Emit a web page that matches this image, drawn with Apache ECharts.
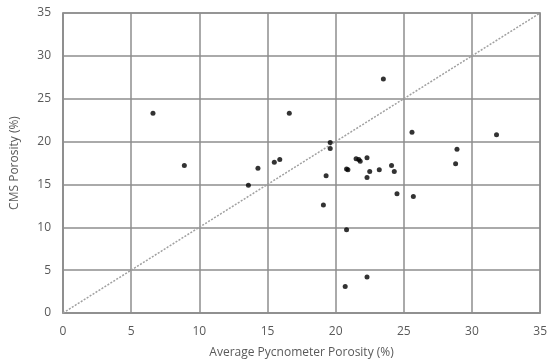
<!DOCTYPE html>
<html>
<head>
<meta charset="utf-8">
<script src="https://cdn.jsdelivr.net/npm/echarts@6/dist/echarts.min.js"></script>
<style>
  html, body { margin: 0; padding: 0; background: #fff; }
  #chart { width: 550px; height: 364px; }
</style>
</head>
<body>
<div id="chart"></div>
<script>
// average pycnometer porosity (%) vs CMS porosity (%)
const pycnometer = [
  6.6, 8.9, 13.6, 14.3, 15.5, 15.9, 16.6, 19.1, 19.3, 19.6, 19.6,
  20.7, 20.8, 20.8, 20.9, 21.5, 21.7, 21.8, 22.3, 22.3, 22.3, 22.5,
  23.2, 23.5, 24.1, 24.3, 24.5, 25.6, 25.7, 28.8, 28.9, 31.8,
];
const cms = [
  23.3, 17.2, 14.9, 16.9, 17.6, 17.9, 23.3, 12.6, 16.0, 19.2, 19.9,
  3.1, 9.7, 16.8, 16.7, 18.0, 17.9, 17.7, 4.2, 15.8, 18.1, 16.5,
  16.7, 27.3, 17.2, 16.5, 13.9, 21.1, 13.6, 17.4, 19.1, 20.8,
];
const lineX = [0, 35];
const lineY = [0, 35];

const font = "'Open Sans', sans-serif";
const gridColor = "#8e8e8e";
const textColor = "#595959";

const chart = echarts.init(document.getElementById("chart"));

const axisCommon = {
  type: "value",
  min: 0,
  max: 35,
  interval: 5,
  nameLocation: "middle",
  nameTextStyle: { color: textColor, fontFamily: font, fontSize: 12 },
  axisLine: { show: true, lineStyle: { color: gridColor, width: 1.5 } },
  axisTick: { show: false },
  axisLabel: { color: textColor, fontFamily: font, fontSize: 12 },
  splitLine: { show: true, lineStyle: { color: gridColor, width: 1.5 } },
};

chart.setOption({
  animation: false,
  grid: { left: 63, right: 5, top: 13, bottom: 49, show: true, borderColor: gridColor, borderWidth: 1.5 },
  xAxis: {
    ...axisCommon,
    name: "Average Pycnometer Porosity (%)",
    nameGap: 34,
    axisLabel: { ...axisCommon.axisLabel, margin: 13 },
  },
  yAxis: {
    ...axisCommon,
    name: "CMS Porosity (%)",
    nameGap: 42,
    axisLabel: { ...axisCommon.axisLabel, margin: 12 },
  },
  series: [
    {
      type: "line",
      data: lineX.map((x, i) => [x, lineY[i]]),
      symbol: "none",
      lineStyle: { color: "#a0a0a0", width: 1.5, type: [2, 1.5] },
      z: 1,
    },
    {
      type: "scatter",
      data: pycnometer.map((x, i) => [x, cms[i]]),
      symbol: "circle",
      symbolSize: 5,
      itemStyle: { color: "#000" },
      z: 3,
    },
  ],
});
</script>
</body>
</html>
